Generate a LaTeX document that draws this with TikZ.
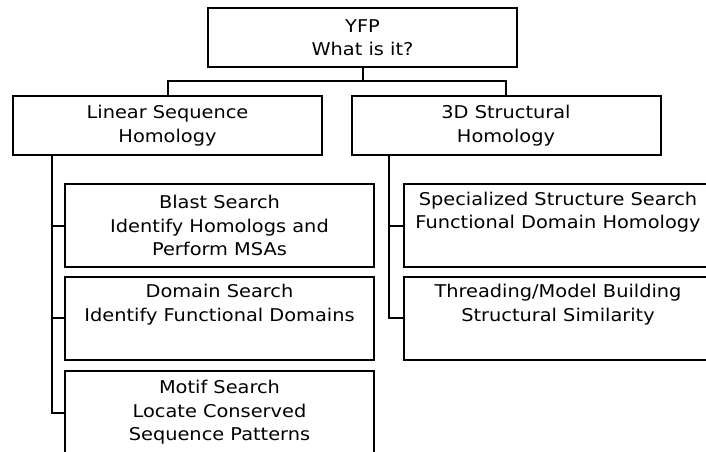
\documentclass[tikz,border=0pt]{standalone}
\usepackage{fontspec}
\setmainfont{DejaVu Sans}[FakeStretch=1.1]
\begin{document}
\begin{tikzpicture}[x=1pt,y=-1pt,line width=2pt,
    box/.style={draw,align=center,inner sep=0pt,minimum width=309pt,
      font=\fontsize{17.6}{23.5}\selectfont},
    headbox/.style={box,minimum height=59pt},
    taskbox/.style={box,minimum height=83pt}]
  \clip (0,0) rectangle (706,451);
  \node [headbox] (yfp) at (362.5,37.5) {YFP\\What is it?};
  \node [headbox] (lin) at (167.5,125.5) {Linear Sequence\\Homology};
  \node [headbox] (struct) at (506,125.5) {3D Structural\\Homology};
  \node [taskbox] (blast) at (219.5,225.5) {Blast Search\\Identify Homologs and\\Perform MSAs};
  \node [taskbox] (domain) at (219.5,318) {Domain Search\\Identify Functional Domains\\ \strut};
  \node [taskbox] (motif) at (219.5,412.5) {Motif Search\\Locate Conserved\\Sequence Patterns};
  \node [taskbox] (special) at (558,225.5) {Specialized Structure Search\\Functional Domain Homology\\ \strut};
  \node [taskbox] (thread) at (558,318) {Threading/Model Building\\Structural Similarity\\ \strut};
  \coordinate (hub) at (yfp.south |- 0,81);
  \coordinate (ltop) at (52,155);
  \coordinate (rtop) at (389,155);
  \draw (yfp.south) -- (hub);
  \draw (lin.north) |- (hub) -| (struct.north);
  \draw (ltop) |- (blast.west);
  \draw (ltop) |- (domain.west);
  \draw (ltop) |- (motif.west);
  \draw (rtop) |- (special.west);
  \draw (rtop) |- (thread.west);
\end{tikzpicture}
\end{document}
